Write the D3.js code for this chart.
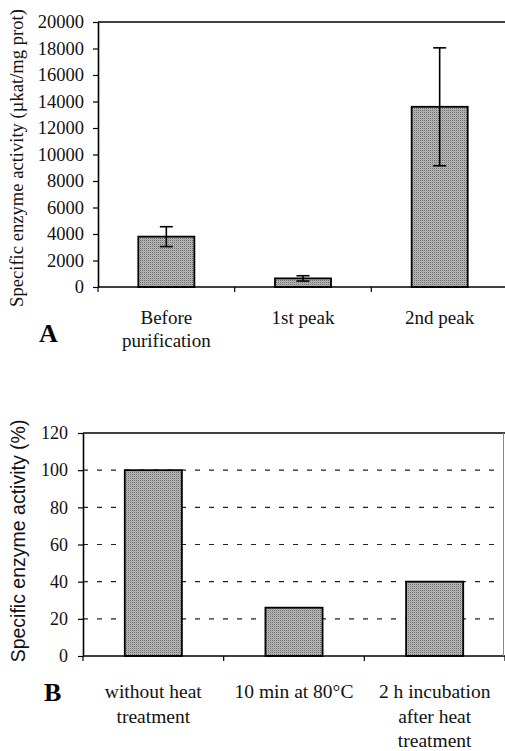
<!DOCTYPE html>
<html>
<head>
<meta charset="utf-8">
<script src="https://cdn.jsdelivr.net/npm/d3@7"></script>
<style>
  html, body { margin: 0; padding: 0; background: #fff; }
  svg { display: block; }
</style>
</head>
<body>
<svg id="chart" width="505" height="751"></svg>
<script>
// ---------- DATA ----------
const categoriesA = [["Before", "purification"], ["1st peak"], ["2nd peak"]];
const valuesA = [3800, 650, 13600];
const errorsA = [750, 200, 4450];
const ticksA = [0, 2000, 4000, 6000, 8000, 10000, 12000, 14000, 16000, 18000, 20000];
const yLabelA = "Specific enzyme activity (µkat/mg prot)";

const categoriesB = [["without heat", "treatment"], ["10 min at 80°C"], ["2 h incubation", "after heat", "treatment"]];
const valuesB = [100, 26, 40];
const ticksB = [0, 20, 40, 60, 80, 100, 120];
const gridB = [20, 40, 60, 80, 100];
const yLabelB = "Specific enzyme activity (%)";

// ---------- DRAW ----------
const svg = d3.select("#chart");
const serif = "'Liberation Serif', 'Times New Roman', serif";
const sans = "'Liberation Sans', Arial, sans-serif";

// stippled grey fill similar to the scanned halftone
const defs = svg.append("defs");
const pat = defs.append("pattern").attr("id", "stipple")
  .attr("patternUnits", "userSpaceOnUse").attr("width", 2).attr("height", 2);
pat.append("rect").attr("width", 2).attr("height", 2).attr("fill", "#b8b8b8");
pat.append("rect").attr("width", 1).attr("height", 1).attr("fill", "#6e6e6e");
pat.append("rect").attr("x", 1).attr("y", 1).attr("width", 1).attr("height", 1).attr("fill", "#a4a4a4");
const barFill = "url(#stipple)";

function panel(opt) {
  const g = svg.append("g");
  const x = d3.scaleBand().domain(opt.cats.map((d, i) => i))
    .range([opt.left, opt.right]).paddingInner(opt.pad).paddingOuter(opt.pad / 2);
  const y = d3.scaleLinear().domain([0, opt.max]).range([opt.bottom, opt.top]);
  const step = (opt.right - opt.left) / opt.cats.length;

  // gridlines
  if (opt.grid) {
    g.selectAll("line.grid").data(opt.grid).enter().append("line")
      .attr("x1", opt.left).attr("x2", opt.gridRight)
      .attr("y1", d => y(d)).attr("y2", d => y(d))
      .attr("stroke", "#222").attr("stroke-width", 1.2)
      .attr("stroke-dasharray", "5,9");
  }

  // bars
  g.selectAll("rect.bar").data(opt.values).enter().append("rect")
    .attr("x", (d, i) => x(i)).attr("width", x.bandwidth())
    .attr("y", d => y(d)).attr("height", d => opt.bottom - y(d))
    .attr("fill", barFill).attr("stroke", "#000").attr("stroke-width", 1.8);

  // error bars
  if (opt.errors) {
    const cx = i => x(i) + x.bandwidth() / 2;
    const eg = g.selectAll("g.err").data(opt.values).enter().append("g");
    eg.append("line")
      .attr("x1", (d, i) => cx(i)).attr("x2", (d, i) => cx(i))
      .attr("y1", (d, i) => y(d + opt.errors[i])).attr("y2", (d, i) => y(d - opt.errors[i]))
      .attr("stroke", "#000").attr("stroke-width", 1.6);
    [1, -1].forEach(s => {
      eg.append("line")
        .attr("x1", (d, i) => cx(i) - 6.5).attr("x2", (d, i) => cx(i) + 6.5)
        .attr("y1", (d, i) => y(d + s * opt.errors[i])).attr("y2", (d, i) => y(d + s * opt.errors[i]))
        .attr("stroke", "#000").attr("stroke-width", 1.6);
    });
  }

  // y axis
  const yAxis = d3.axisLeft(y).tickValues(opt.ticks).tickFormat(d3.format("d"))
    .tickSize(5).tickPadding(opt.tickPad).tickSizeOuter(0);
  const ya = g.append("g").attr("transform", `translate(${opt.left},0)`).call(yAxis);
  ya.select(".domain").attr("stroke", "#000").attr("stroke-width", 1.6);
  ya.selectAll(".tick line").attr("stroke", "#000").attr("stroke-width", 1.2);
  ya.selectAll(".tick text").attr("font-family", serif).attr("font-size", opt.tickFont).attr("fill", "#111");

  // x axis line + boundary ticks
  g.append("line").attr("x1", opt.left).attr("x2", opt.right)
    .attr("y1", opt.bottom).attr("y2", opt.bottom)
    .attr("stroke", "#000").attr("stroke-width", 1.6);
  g.selectAll("line.xt").data(d3.range(opt.cats.length + 1)).enter().append("line")
    .attr("x1", i => opt.left + i * step).attr("x2", i => opt.left + i * step)
    .attr("y1", opt.bottom).attr("y2", opt.bottom + 5)
    .attr("stroke", "#000").attr("stroke-width", 1.2);

  // top border
  g.append("line").attr("x1", opt.left).attr("x2", opt.right)
    .attr("y1", opt.top).attr("y2", opt.top)
    .attr("stroke", "#000").attr("stroke-width", 1.6);
  if (opt.rightBorder) {
    g.append("line").attr("x1", opt.rightBorder).attr("x2", opt.rightBorder)
      .attr("y1", opt.top).attr("y2", opt.bottom)
      .attr("stroke", "#888").attr("stroke-width", 1);
  }

  // category labels
  const cl = g.selectAll("text.cat").data(opt.cats).enter().append("text")
    .attr("text-anchor", "middle")
    .attr("font-family", serif).attr("font-size", opt.catFont).attr("fill", "#111");
  cl.each(function (lines, i) {
    const t = d3.select(this);
    lines.forEach((ln, j) => {
      t.append("tspan").attr("x", x(i) + x.bandwidth() / 2)
        .attr("y", opt.catY + j * opt.catLH).text(ln);
    });
  });

  // y label
  g.append("text")
    .attr("transform", `translate(${opt.yLabelX},${opt.yLabelY}) rotate(-90)`)
    .attr("text-anchor", "middle")
    .attr("font-family", opt.yLabelFamily).attr("font-size", opt.yLabelFont).attr("fill", "#111")
    .text(opt.yLabel);

  // panel letter
  g.append("text").attr("x", opt.letterX).attr("y", opt.letterY)
    .attr("font-family", serif).attr("font-weight", "bold").attr("font-size", 26).attr("fill", "#000")
    .text(opt.letter);
}

panel({
  cats: categoriesA, values: valuesA, errors: errorsA, ticks: ticksA, max: 20000,
  left: 98, right: 508, top: 22, bottom: 287, pad: 0.59,
  tickPad: 9, tickFont: 18.5, catFont: 19, catY: 324, catLH: 23,
  yLabel: yLabelA, yLabelX: 23, yLabelY: 158, yLabelFont: 18.6, yLabelFamily: serif,
  letter: "A", letterX: 39, letterY: 342
});

panel({
  cats: categoriesB, values: valuesB, ticks: ticksB, max: 120, grid: gridB, gridRight: 503,
  left: 83, right: 505, top: 433, bottom: 656, pad: 0.594, rightBorder: 503.5,
  tickPad: 10, tickFont: 18, catFont: 19.5, catY: 698, catLH: 24.5,
  yLabel: yLabelB, yLabelX: 25, yLabelY: 541, yLabelFont: 19.5, yLabelFamily: sans,
  letter: "B", letterX: 44, letterY: 701
});
</script>
</body>
</html>
